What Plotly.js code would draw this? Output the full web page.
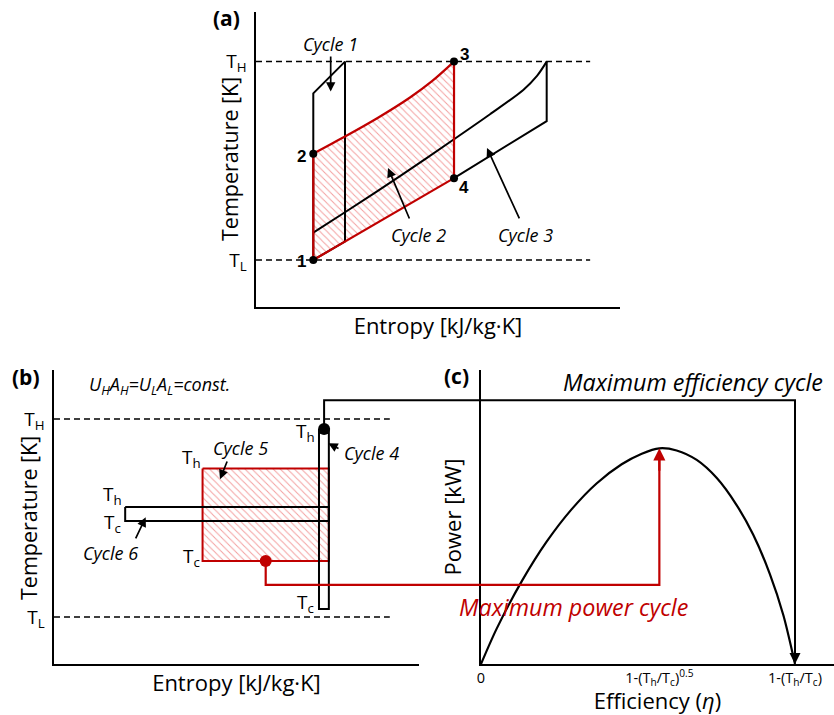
<!DOCTYPE html>
<html>
<head>
<meta charset="utf-8">
<script src="https://cdn.plot.ly/plotly-3.0.1.min.js"></script>
<style>
  html, body { margin: 0; padding: 0; background: #ffffff; }
  #chart { width: 834px; height: 715px; }
</style>
</head>
<body>
<div id="chart"></div>
<script>
// ---------- Panel (a): T–s diagram of cycles 1–3 (schematic units, T_L = 1, T_H = 5) ----------
const levelsA = [1, 5];
const levelTextA = ['T<sub>L</sub>', 'T<sub>H</sub>'];
const levelLineS_A = [0, 9.18];

// state points 1-4
const statePtsS = [1.574, 1.574, 5.44, 5.44];
const statePtsT = [1.00, 3.144, 5.00, 2.65];
const statePtsLbl = ['1', '2', '3', '4'];

// cycle 1 (narrow, high-efficiency cycle)
const cycle1S = [1.574, 1.574, 2.445, 2.445, 1.574];
const cycle1T = [1.00, 4.36, 5.00, 1.372, 1.00];

// cycle 2 (red, hatched): heat-addition curve 2 -> 3
const cycle2UpperS = [1.574, 2.445, 3.352, 4.231, 4.835, 5.44];
const cycle2UpperT = [3.144, 3.489, 3.868, 4.276, 4.605, 5.00];
// heat-rejection line 4 -> 1
const cycle2LowerS = [5.44, 1.574];
const cycle2LowerT = [2.65, 1.00];

// cycle 3 (wide cycle): heat-addition curve and right-hand closing lines
const cycle3UpperS = [1.574, 2.445, 3.956, 5.44, 6.429, 7.343, 7.720, 7.986];
const cycle3UpperT = [1.551, 1.962, 2.690, 3.435, 3.939, 4.429, 4.712, 5.00];
const cycle3RightS = [7.986, 7.986, 5.44];
const cycle3RightT = [5.00, 3.80, 2.65];

// ---------- Panel (b): finite heat-exchanger cycles 4–6 ----------
const levelsB = [1, 5];
const levelTextB = ['T<sub>L</sub>', 'T<sub>H</sub>'];
const levelLineS_B = [0, 9.2];

const cycle4S = [7.26, 7.53, 7.53, 7.26, 7.26];
const cycle4T = [4.80, 4.80, 1.16, 1.16, 4.80];
const cycle5S = [4.07, 7.53, 7.53, 4.07, 4.07];
const cycle5T = [4.00, 4.00, 2.13, 2.13, 4.00];
const cycle6S = [1.95, 7.53, 7.53, 1.95, 1.95];
const cycle6T = [3.22, 3.22, 2.94, 2.94, 3.22];
const cycle4Dot = [7.40, 4.80];
const cycle5Dot = [5.80, 2.13];

// ---------- Panel (c): power vs. efficiency (normalised, eta_max = 1, P_max = 1) ----------
const etaVals = [0, 0.050, 0.130, 0.209, 0.289, 0.368, 0.448, 0.512, 0.568, 0.623, 0.687, 0.751, 0.814, 0.867, 0.920, 0.963, 1.0];
const powerVals = [0, 0.164, 0.384, 0.567, 0.718, 0.837, 0.926, 0.975, 1.0, 0.990, 0.946, 0.862, 0.737, 0.599, 0.417, 0.226, 0];
const etaTicks = [0, 0.568, 1.0];
const etaTickText = ['0', '1-(T<sub>h</sub>/T<sub>c</sub>)<sup>0.5</sup>', '1-(T<sub>h</sub>/T<sub>c</sub>)'];
const etaMaxPower = 0.568, powerMax = 1.0, etaMax = 1.0;

// link levels between panels (b) and (c), in panel-(b) temperature units
const maxEffLinkT = 5.38;
const maxPowLinkT = 1.65;

const RED = '#c00000';
const FONT = 'Open Sans, Liberation Sans, sans-serif';
const W = 834, H = 715;

const xA = { domain: [256 / W, 620 / W], range: [0, 10] };
const yA = { domain: [1 - 307 / H, 1 - 12 / H], range: [0.052, 6.0] };
const xB = { domain: [54 / W, 419 / W], range: [0, 10] };
const yB = { domain: [1 - 664 / H, 1 - 370 / H], range: [0.05, 5.99] };
const xC = { domain: [481 / W, 1], range: [0, 1.1242] };
const yC = { domain: [1 - 664 / H, 1 - 370 / H], range: [0, 1.363] };

function toPaper(ax, v) {
  return ax.domain[0] + (v - ax.range[0]) / (ax.range[1] - ax.range[0]) * (ax.domain[1] - ax.domain[0]);
}

const traces = [];
function line(x, y, xa, ya, lineStyle, extra) {
  traces.push(Object.assign({
    type: 'scatter', mode: 'lines', x: x, y: y, xaxis: xa, yaxis: ya,
    line: lineStyle, hoverinfo: 'skip', showlegend: false
  }, extra || {}));
}
const blk = { color: '#000', width: 2 };
const red = { color: RED, width: 2.2 };
const dashed = { color: '#000', width: 1.5, dash: '6px,4px' };

// hatched fills first so outlines sit on top
const hatch = { shape: '\\', fgcolor: '#f3a0a0', bgcolor: 'rgba(255,255,255,0)', size: 5, solidity: 0.2 };
line(cycle2UpperS.concat(cycle2LowerS), cycle2UpperT.concat(cycle2LowerT), 'x', 'y', { width: 0, color: 'rgba(0,0,0,0)' },
  { fill: 'toself', fillcolor: 'rgba(255,255,255,0)', fillpattern: hatch });
line(cycle5S, cycle5T, 'x2', 'y2', { width: 0, color: 'rgba(0,0,0,0)' },
  { fill: 'toself', fillcolor: 'rgba(255,255,255,0)', fillpattern: hatch });

// panel (a)
line(levelLineS_A, [levelsA[0], levelsA[0]], 'x', 'y', dashed);
line(levelLineS_A, [levelsA[1], levelsA[1]], 'x', 'y', dashed);
line(cycle1S, cycle1T, 'x', 'y', blk);
line(cycle3UpperS, cycle3UpperT, 'x', 'y', { color: '#000', width: 2, shape: 'spline', smoothing: 0.8 });
line(cycle3RightS, cycle3RightT, 'x', 'y', blk);
line([statePtsS[0], statePtsS[1]], [statePtsT[0], statePtsT[1]], 'x', 'y', red);
line(cycle2UpperS, cycle2UpperT, 'x', 'y', { color: RED, width: 2.2, shape: 'spline', smoothing: 0.8 });
line([statePtsS[2], statePtsS[3]], [statePtsT[2], statePtsT[3]], 'x', 'y', red);
line(cycle2LowerS, cycle2LowerT, 'x', 'y', red);
traces.push({ type: 'scatter', mode: 'markers', x: statePtsS, y: statePtsT, xaxis: 'x', yaxis: 'y',
  marker: { color: '#000', size: 8 }, hoverinfo: 'skip', showlegend: false });

// panel (b)
line(levelLineS_B, [levelsB[0], levelsB[0]], 'x2', 'y2', dashed);
line(levelLineS_B, [levelsB[1], levelsB[1]], 'x2', 'y2', dashed);
line(cycle5S, cycle5T, 'x2', 'y2', { color: RED, width: 2 });
line(cycle6S, cycle6T, 'x2', 'y2', blk);
line(cycle4S, cycle4T, 'x2', 'y2', blk);
traces.push({ type: 'scatter', mode: 'markers', x: [cycle4Dot[0]], y: [cycle4Dot[1]], xaxis: 'x2', yaxis: 'y2',
  marker: { color: '#000', size: 12 }, hoverinfo: 'skip', showlegend: false, cliponaxis: false });
traces.push({ type: 'scatter', mode: 'markers', x: [cycle5Dot[0]], y: [cycle5Dot[1]], xaxis: 'x2', yaxis: 'y2',
  marker: { color: RED, size: 12 }, hoverinfo: 'skip', showlegend: false, cliponaxis: false });

// panel (c)
line(etaVals, powerVals, 'x3', 'y3', { color: '#000', width: 2.2, shape: 'spline', smoothing: 0.8 });

// links from the cycles in (b) to their operating points in (c)
function linkPath(startS, startT, levelT, etaEnd, pEnd) {
  const x0 = toPaper(xB, startS), y0 = toPaper(yB, startT);
  const yl = toPaper(yB, levelT);
  const x1 = toPaper(xC, etaEnd), y1 = toPaper(yC, pEnd);
  return `M ${x0},${y0} L ${x0},${yl} L ${x1},${yl} L ${x1},${y1}`;
}
const shapes = [
  { type: 'path', xref: 'paper', yref: 'paper', path: linkPath(cycle4Dot[0], cycle4Dot[1], maxEffLinkT, etaMax, 0.03),
    line: { color: '#000', width: 2 } },
  { type: 'path', xref: 'paper', yref: 'paper', path: linkPath(cycle5Dot[0], cycle5Dot[1], maxPowLinkT, etaMaxPower, powerMax - 0.03),
    line: { color: RED, width: 2.2 } }
];

function txt(x, y, xref, yref, text, size, opts) {
  return Object.assign({ x: x, y: y, xref: xref, yref: yref, text: text, showarrow: false,
    font: { family: FONT, size: size, color: '#000' }, xanchor: 'center', yanchor: 'middle' }, opts || {});
}
function arrow(hx, hy, tx, ty, xref, yref) {
  return { x: hx, y: hy, ax: tx, ay: ty, xref: xref, yref: yref, axref: xref, ayref: yref,
    text: '', showarrow: true, arrowhead: 2, arrowsize: 1.1, arrowwidth: 1.7,
    arrowcolor: '#000', standoff: 0 };
}
const NUMFONT = 'Liberation Sans, Arial, sans-serif';
const numFont = { family: NUMFONT, size: 17, color: '#000' };
const CYC = 18;

const annotations = [
  // panel letters
  txt(227 / W, 1 - 18 / H, 'paper', 'paper', '<b>(a)</b>', 21),
  txt(26 / W, 1 - 377 / H, 'paper', 'paper', '<b>(b)</b>', 21),
  txt(456 / W, 1 - 376 / H, 'paper', 'paper', '<b>(c)</b>', 21),

  // vertical axis titles of the T–s panels
  txt(229 / W, 1 - 159 / H, 'paper', 'paper', 'Temperature [K]', 21.5, { textangle: -90 }),
  txt(28 / W, 1 - 518 / H, 'paper', 'paper', 'Temperature [K]', 21.5, { textangle: -90 }),

  // panel (a)
  txt(2.033, 5.357, 'x', 'y', '<i>Cycle 1</i>', CYC),
  txt(4.459, 1.504, 'x', 'y', '<i>Cycle 2</i>', CYC),
  txt(7.390, 1.504, 'x', 'y', '<i>Cycle 3</i>', CYC),
  txt(1.256, 0.966, 'x', 'y', '<b>' + statePtsLbl[0] + '</b>', 17, { font: numFont }),
  txt(1.256, 3.084, 'x', 'y', '<b>' + statePtsLbl[1] + '</b>', 17, { font: numFont }),
  txt(5.723, 5.135, 'x', 'y', '<b>' + statePtsLbl[2] + '</b>', 17, { font: numFont }),
  txt(5.701, 2.462, 'x', 'y', '<b>' + statePtsLbl[3] + '</b>', 17, { font: numFont }),
  arrow(2.052, 4.395, 2.052, 5.135, 'x', 'y'),
  arrow(3.626, 2.856, 4.231, 1.807, 'x', 'y'),
  arrow(6.346, 3.259, 7.253, 1.807, 'x', 'y'),

  // panel (b)
  txt(2.877, 5.687, 'x2', 'y2', '<i>U<sub>H</sub>A<sub>H</sub>=U<sub>L</sub>A<sub>L</sub>=const.</i>', 18),
  txt(6.877, 4.737, 'x2', 'y2', 'T<sub>h</sub>', 19),
  txt(6.877, 1.283, 'x2', 'y2', 'T<sub>c</sub>', 19),
  txt(3.773, 4.212, 'x2', 'y2', 'T<sub>h</sub>', 19),
  txt(3.773, 2.212, 'x2', 'y2', 'T<sub>c</sub>', 19),
  txt(1.616, 3.465, 'x2', 'y2', 'T<sub>h</sub>', 19),
  txt(1.616, 2.899, 'x2', 'y2', 'T<sub>c</sub>', 19),
  txt(5.096, 4.414, 'x2', 'y2', '<i>Cycle 5</i>', CYC),
  txt(8.704, 4.313, 'x2', 'y2', '<i>Cycle 4</i>', CYC),
  txt(1.553, 2.299, 'x2', 'y2', '<i>Cycle 6</i>', CYC),
  arrow(4.548, 3.782, 4.759, 4.172, 'x2', 'y2'),
  arrow(7.515, 4.509, 7.836, 4.388, 'x2', 'y2'),
  arrow(2.512, 3.014, 2.219, 2.556, 'x2', 'y2'),

  // panel (c)
  txt(0.674, 1.307, 'x3', 'y3', '<i>Maximum efficiency cycle</i>', 23.3),
  txt(0.296, 0.264, 'x3', 'y3', '<i>Maximum power cycle</i>', 23.3, { font: { family: FONT, size: 23.3, color: RED } }),
  { x: etaMax, y: 0, xref: 'x3', yref: 'y3', ax: 0, ay: -24, text: '', showarrow: true,
    arrowhead: 2, arrowsize: 1.1, arrowwidth: 2, arrowcolor: '#000', standoff: 0 },
  { x: etaMaxPower, y: powerMax, xref: 'x3', yref: 'y3', ax: 0, ay: 24, text: '', showarrow: true,
    arrowhead: 2, arrowsize: 1.1, arrowwidth: 2.2, arrowcolor: RED, standoff: 0 }
];

const axisBase = {
  showline: true, linecolor: '#000', linewidth: 1.6, showgrid: false, zeroline: false,
  ticks: '', fixedrange: true, tickfont: { family: FONT, size: 19, color: '#000' }
};
function axis(spec, extra) {
  return Object.assign({}, axisBase, { domain: spec.domain, range: spec.range }, extra);
}
const titleFont = { family: FONT, size: 22, color: '#000' };

const layout = {
  width: W, height: H,
  margin: { l: 0, r: 0, t: 0, b: 0, pad: 0 },
  paper_bgcolor: '#fff', plot_bgcolor: 'rgba(0,0,0,0)',
  showlegend: false,
  font: { family: FONT, color: '#000' },
  xaxis: axis(xA, { anchor: 'y', showticklabels: false,
    title: { text: 'Entropy [kJ/kg·K]', font: titleFont, standoff: 11 } }),
  yaxis: axis(yA, { anchor: 'x', tickmode: 'array', tickvals: levelsA, ticktext: levelTextA, ticklabelstandoff: 4 }),
  xaxis2: axis(xB, { anchor: 'y2', showticklabels: false,
    title: { text: 'Entropy [kJ/kg·K]', font: titleFont, standoff: 11 } }),
  yaxis2: axis(yB, { anchor: 'x2', tickmode: 'array', tickvals: levelsB, ticktext: levelTextB, ticklabelstandoff: 4 }),
  xaxis3: axis(xC, { anchor: 'y3', tickmode: 'array', tickvals: etaTicks, ticktext: etaTickText,
    tickfont: { family: FONT, size: 14.5, color: '#000' },
    title: { text: 'Efficiency (<i>η</i>)', font: titleFont, standoff: 6 } }),
  yaxis3: axis(yC, { anchor: 'x3', showticklabels: false,
    title: { text: 'Power [kW]', font: titleFont, standoff: 12 } }),
  shapes: shapes,
  annotations: annotations
};

Plotly.newPlot('chart', traces, layout, { staticPlot: true, displayModeBar: false });
</script>
</body>
</html>
